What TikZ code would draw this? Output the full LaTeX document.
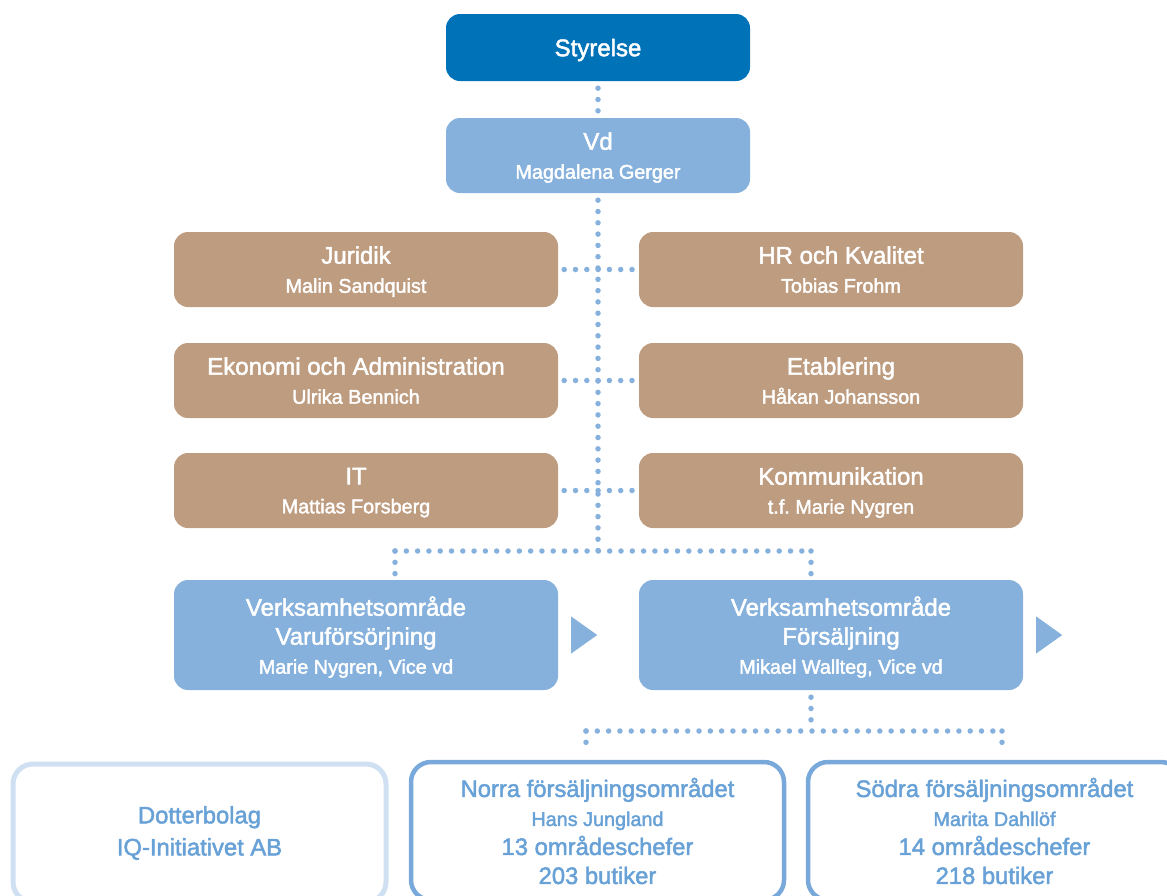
\documentclass[tikz,border=0pt]{standalone}
\usepackage{fontspec}
\setmainfont{Liberation Sans}
\newfontfamily\medfont[FakeBold=2]{Liberation Sans}
\usetikzlibrary{calc}
\definecolor{dkblue}{RGB}{0,114,184}
\definecolor{ltblue}{RGB}{134,177,220}
\definecolor{brownbox}{RGB}{190,156,128}
\definecolor{txtblue}{RGB}{104,161,214}
\definecolor{bordblue}{RGB}{121,169,218}
\definecolor{paleblue}{RGB}{207,224,242}
\newcommand{\nm}[1]{{\fontsize{19.8}{29}\selectfont #1}}
% \orgbox{name}{style}{position}{text x offset}{text}
\newcommand{\orgbox}[5]{%
  \node[#2] (#1) at #3 {};
  \node[boxtext] (#1-t) at ([xshift=#4]#1.center) {#5};}
\frenchspacing
\begin{document}
\begin{tikzpicture}[x=1pt,y=-1pt,
  box/.style={rounded corners=14pt, inner sep=0pt, minimum width=384pt, minimum height=75pt},
  boxtext/.style={inner sep=0pt, text=white, align=center, text depth=0pt,
    font=\medfont\fontsize{24}{29}\selectfont},
  topbox/.style={box, fill=dkblue, minimum width=304pt, minimum height=67pt},
  vdbox/.style={box, fill=ltblue, minimum width=304pt},
  brbox/.style={box, fill=brownbox},
  vbox/.style={box, fill=ltblue, minimum height=110pt},
  outbox/.style={rounded corners=20pt, inner sep=0pt, text=txtblue, align=center,
    minimum width=373pt, minimum height=138pt, line width=4.5pt, draw=bordblue,
    font=\medfont\fontsize{23.8}{29}\selectfont},
  dots/.style={draw=ltblue, line width=5.5pt, line cap=round, dash pattern=on 0pt off 11.3pt},
  tri/.style={fill=ltblue}
]
\clip (0,0) rectangle (1167,895);

\orgbox{sty}{topbox}{(598,47.5)}{0pt}{Styrelse}
\orgbox{vd}{vdbox}{(598,155.5)}{0pt}{Vd\\\nm{Magdalena Gerger}}

\orgbox{jur}{brbox}{(366,269.5)}{-10pt}{Juridik\\\nm{Malin Sandquist}}
\orgbox{hr}{brbox}{(831,269.5)}{10pt}{HR och Kvalitet\\\nm{Tobias Frohm}}
\orgbox{eko}{brbox}{(366,380.5)}{-10pt}{Ekonomi och Administration\\\nm{Ulrika Bennich}}
\orgbox{eta}{brbox}{(831,380.5)}{10pt}{Etablering\\\nm{Håkan Johansson}}
\orgbox{it}{brbox}{(366,490.5)}{-10pt}{IT\\\nm{Mattias Forsberg}}
\orgbox{kom}{brbox}{(831,490.5)}{10pt}{Kommunikation\\\nm{t.f. Marie Nygren}}

\orgbox{va}{vbox}{(366,635)}{-10pt}{Verksamhetsområde\\Varuförsörjning\\\nm{Marie Nygren, Vice vd}}
\orgbox{fs}{vbox}{(831,635)}{10pt}{Verksamhetsområde\\Försäljning\\\nm{Mikael Wallteg, Vice vd}}

\fill[tri] ($(va.east)+(13,-18.5)$) -- ($(va.east)+(13,18.5)$) -- ($(va.east)+(39,0)$) -- cycle;
\fill[tri] ($(fs.east)+(13,-18.5)$) -- ($(fs.east)+(13,18.5)$) -- ($(fs.east)+(39,0)$) -- cycle;

\node[outbox, draw=paleblue, line width=5pt] (dot) at (199.5,833) {Dotterbolag\\[3pt]IQ-Initiativet AB};
\node[outbox] (nor) at (597.5,831) {Norra försäljningsområdet\\\nm{Hans Jungland}\\13 områdeschefer\\203 butiker};
\node[outbox] (sod) at (994.5,831) {Södra försäljningsområdet\\\nm{Marita Dahllöf}\\14 områdeschefer\\218 butiker};

% connectors
\draw[dots] ([yshift=-7pt]sty.south) -- ([yshift=7pt]vd.north);
\coordinate (j1) at (598,551);
\coordinate (jl) at (395,551);
\coordinate (jr) at (811,551);
\draw[dots] ([yshift=-7pt]vd.south) -- (j1);
\draw[dots] ([xshift=6pt]jur.east) -- ([xshift=-6pt]hr.west);
\draw[dots] ([xshift=6pt]eko.east) -- ([xshift=-6pt]eta.west);
\draw[dots] ([xshift=6pt]it.east) -- ([xshift=-6pt]kom.west);
\draw[dots] (jl) -- (jr);
\draw[dots] (jl) -- ($(jl |- va.north)+(0,-6)$);
\draw[dots] (jr) -- ($(jr |- fs.north)+(0,-6)$);

\coordinate (k1) at (811,731);
\coordinate (kl) at (586,731);
\coordinate (kr) at (1002,731);
\draw[dots] ($(k1 |- fs.south)+(0,7)$) -- (k1);
\draw[dots] (kl) -- (kr);
\draw[dots] (kl) -- ($(kl |- nor.north)+(0,-9)$);
\draw[dots] (kr) -- ($(kr |- sod.north)+(0,-9)$);
\end{tikzpicture}
\end{document}
